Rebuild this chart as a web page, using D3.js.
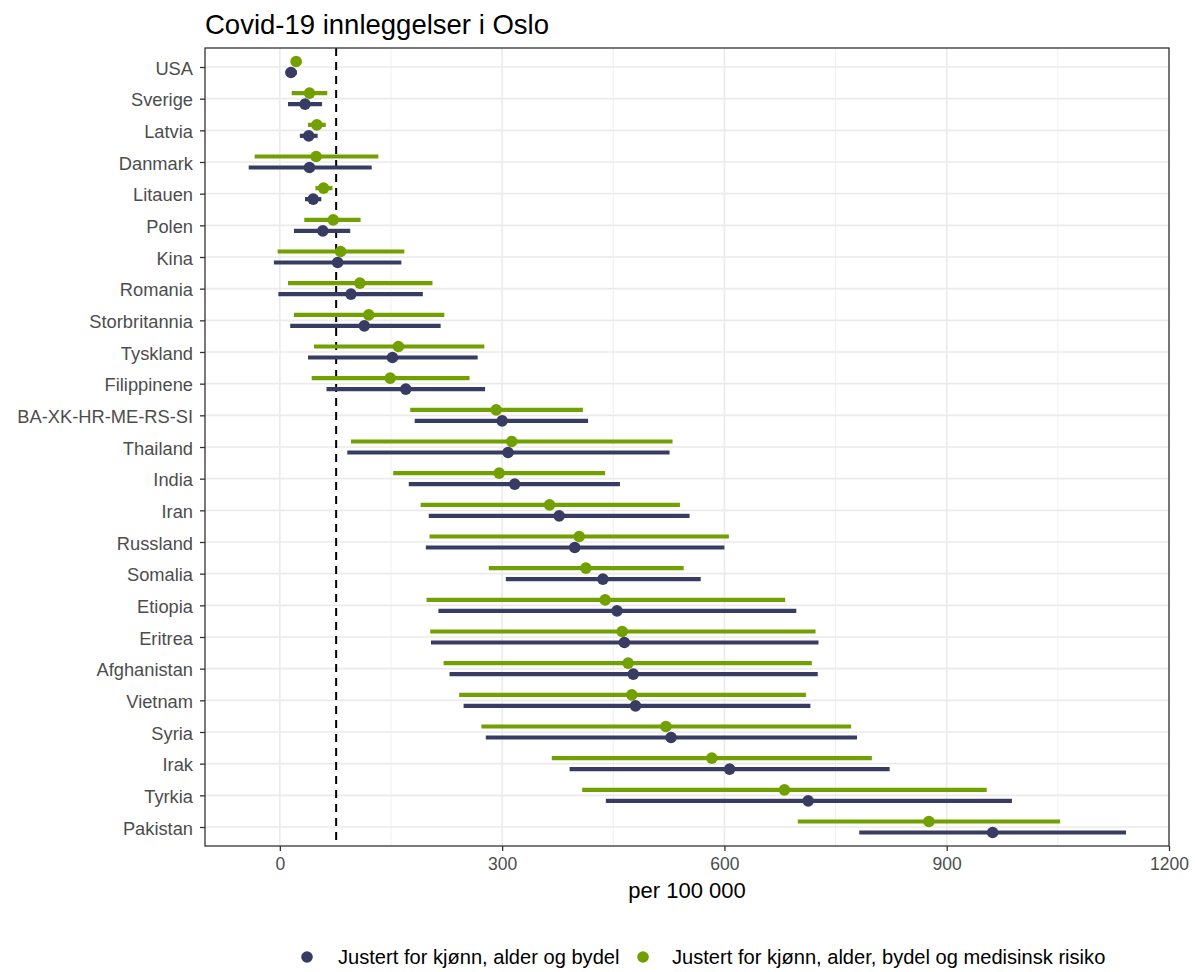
<!DOCTYPE html>
<html>
<head>
<meta charset="utf-8">
<script src="https://cdn.jsdelivr.net/npm/d3@7"></script>
<style>
  html, body { margin: 0; padding: 0; background: #fff; }
  svg { display: block; font-family: "Liberation Sans", Arial, sans-serif; }
</style>
</head>
<body>
<svg id="chart" width="1195" height="972"></svg>
<script>
const countries = ["USA","Sverige","Latvia","Danmark","Litauen","Polen","Kina","Romania","Storbritannia","Tyskland","Filippinene","BA-XK-HR-ME-RS-SI","Thailand","India","Iran","Russland","Somalia","Etiopia","Eritrea","Afghanistan","Vietnam","Syria","Irak","Tyrkia","Pakistan"];

// Justert for kjønn, alder og bydel
const est1 = [15, 34, 39, 40, 45, 58, 78, 96, 114, 152, 170, 300, 308, 317, 377, 398, 436, 455, 465, 477, 480, 528, 607, 713, 962];
const lo1  = [8, 11, 27, -42, 34, 19, -8, -2, 14, 38, 63, 182, 91, 174, 201, 197, 305, 214, 204, 229, 248, 278, 391, 440, 782];
const hi1  = [23, 57, 51, 124, 56, 95, 164, 193, 217, 267, 277, 416, 526, 459, 553, 600, 568, 697, 727, 726, 716, 779, 823, 988, 1142];

// Justert for kjønn, alder, bydel og medisinsk risiko
const est2 = [22, 40, 50, 49, 59, 72, 82, 108, 120, 160, 149, 292, 313, 296, 364, 404, 413, 439, 462, 470, 475, 521, 583, 681, 876];
const lo2  = [15, 16, 38, -34, 48, 33, -3, 11, 19, 46, 43, 176, 96, 153, 190, 202, 282, 198, 203, 221, 242, 272, 367, 408, 699];
const hi2  = [29, 64, 62, 133, 71, 109, 168, 206, 222, 276, 256, 409, 530, 439, 540, 606, 545, 682, 723, 718, 710, 771, 799, 954, 1053];

const seriesNames = ["Justert for kjønn, alder og bydel", "Justert for kjønn, alder, bydel og medisinsk risiko"];
const xTicks = [0, 300, 600, 900, 1200];
const xMinor = [150, 450, 750, 1050];
const refLine = 76;
const title = "Covid-19 innleggelser i Oslo";
const xTitle = "per 100 000";

const colors = ["#393c62", "#72a000"];

const svg = d3.select("#chart");
const P = { left: 205, right: 1169, top: 48, bottom: 846 };

const x = d3.scaleLinear().domain([-101, 1200]).range([P.left, P.right]);
const y = d3.scalePoint().domain(countries).range([P.top, P.bottom]).padding(0.6);

// grid
const g = svg.append("g");
g.selectAll(".minor").data(xMinor).join("line")
  .attr("x1", d => x(d)).attr("x2", d => x(d))
  .attr("y1", P.top).attr("y2", P.bottom)
  .attr("stroke", "#ebebeb").attr("stroke-width", 0.8);
g.selectAll(".major").data(xTicks).join("line")
  .attr("x1", d => x(d)).attr("x2", d => x(d))
  .attr("y1", P.top).attr("y2", P.bottom)
  .attr("stroke", "#ebebeb").attr("stroke-width", 1.6);
g.selectAll(".hmajor").data(countries).join("line")
  .attr("x1", P.left).attr("x2", P.right)
  .attr("y1", d => y(d)).attr("y2", d => y(d))
  .attr("stroke", "#ebebeb").attr("stroke-width", 1.6);

// reference line
svg.append("line")
  .attr("x1", x(refLine)).attr("x2", x(refLine))
  .attr("y1", P.top).attr("y2", P.bottom)
  .attr("stroke", "#000").attr("stroke-width", 2)
  .attr("stroke-dasharray", "8,6");

// data rows
const rows = countries.map((c, i) => ({ c, s: [
  { est: est2[i], lo: lo2[i], hi: hi2[i], k: 1, off: -5.5 },
  { est: est1[i], lo: lo1[i], hi: hi1[i], k: 0, off: 5.5 }
]}));
const marks = svg.append("g");
rows.forEach(r => {
  r.s.forEach(s => {
    marks.append("line")
      .attr("x1", x(s.lo)).attr("x2", x(s.hi))
      .attr("y1", y(r.c) + s.off).attr("y2", y(r.c) + s.off)
      .attr("stroke", colors[s.k]).attr("stroke-width", 4.2);
  });
});
rows.forEach(r => {
  r.s.forEach(s => {
    marks.append("circle")
      .attr("cx", x(s.est)).attr("cy", y(r.c) + s.off)
      .attr("r", 5.8).attr("fill", colors[s.k]);
  });
});

// panel border
svg.append("rect")
  .attr("x", P.left).attr("y", P.top)
  .attr("width", P.right - P.left).attr("height", P.bottom - P.top)
  .attr("fill", "none").attr("stroke", "#333").attr("stroke-width", 1.3);

// axes
const xAxis = svg.append("g").attr("transform", `translate(0,${P.bottom})`)
  .call(d3.axisBottom(x).tickValues(xTicks).tickSize(5).tickPadding(7).tickFormat(d3.format("d")));
xAxis.select(".domain").remove();
xAxis.selectAll("line").attr("stroke", "#333").attr("stroke-width", 1.3);
xAxis.selectAll("text").attr("fill", "#4d4d4d").style("font-size", "17.5px");

const yAxis = svg.append("g").attr("transform", `translate(${P.left},0)`)
  .call(d3.axisLeft(y).tickSize(5).tickPadding(7));
yAxis.select(".domain").remove();
yAxis.selectAll("line").attr("stroke", "#333").attr("stroke-width", 1.3);
yAxis.selectAll("text").attr("fill", "#4d4d4d").style("font-size", "18.3px").attr("dy", "0.4em");

// titles
svg.append("text").attr("x", P.left).attr("y", 34)
  .style("font-size", "27.5px").attr("fill", "#000").text(title);
svg.append("text").attr("x", (P.left + P.right) / 2).attr("y", 898)
  .attr("text-anchor", "middle").style("font-size", "22px").attr("fill", "#000").text(xTitle);

// legend
const leg = svg.append("g");
const legItems = [
  { cx: 307, tx: 338, k: 0 },
  { cx: 643, tx: 672, k: 1 }
];
legItems.forEach(l => {
  leg.append("circle").attr("cx", l.cx).attr("cy", 957).attr("r", 5.8).attr("fill", colors[l.k]);
  leg.append("text").attr("x", l.tx).attr("y", 964).style("font-size", "20.1px").attr("fill", "#000").text(seriesNames[l.k]);
});
</script>
</body>
</html>
